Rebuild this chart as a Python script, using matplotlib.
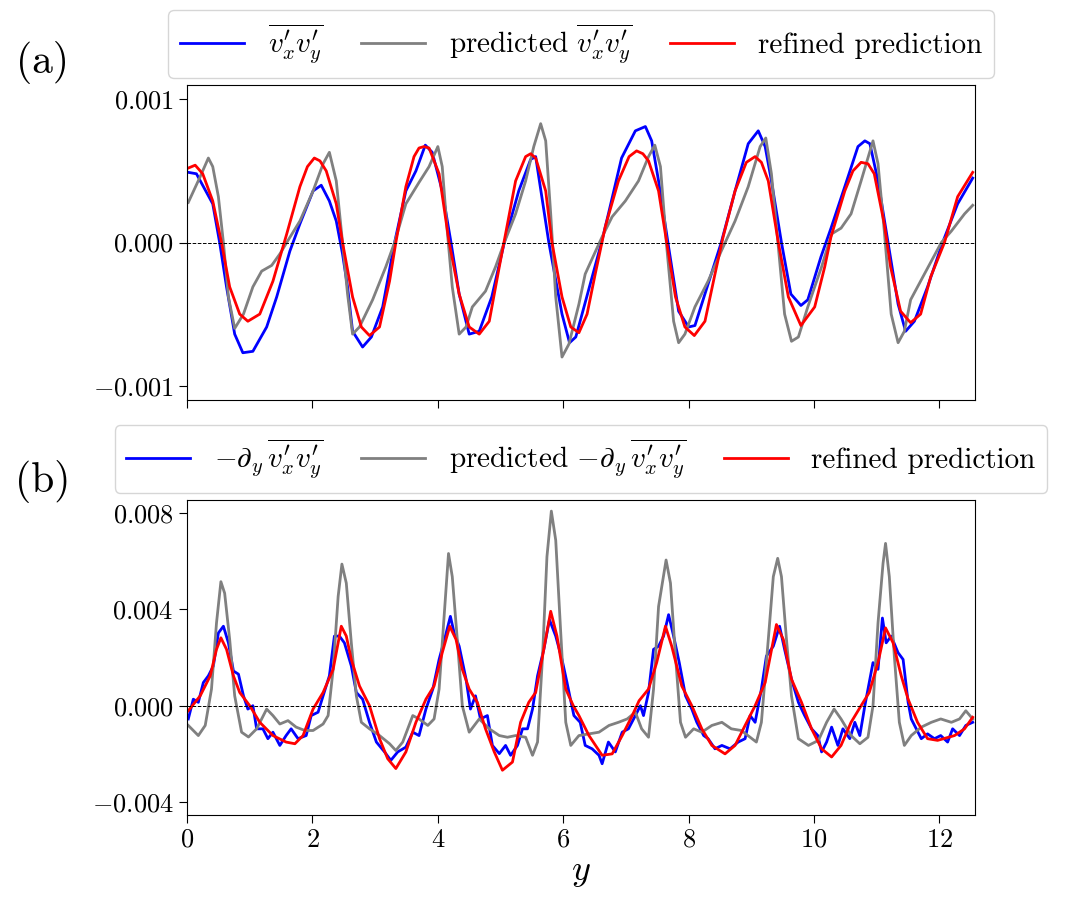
import numpy as np
import matplotlib
matplotlib.use("Agg")
import matplotlib.pyplot as plt
from matplotlib.ticker import FuncFormatter, MultipleLocator

plt.rcParams['font.family'] = 'serif'
plt.rcParams['font.serif'] = ['cmr10', 'DejaVu Serif']
plt.rcParams['mathtext.fontset'] = 'cm'
plt.rcParams['axes.formatter.use_mathtext'] = True

# ==========================
# Panel (a): Reynolds stress
# ==========================
y_a_true = [0.02, 0.15, 0.41, 0.52, 0.63, 0.76, 0.89, 1.05, 1.27, 1.43, 1.64, 1.80, 2.01, 2.14,
            2.27, 2.38, 2.48, 2.56, 2.64, 2.80, 2.94, 3.12, 3.31, 3.49, 3.65, 3.80, 3.91, 4.07,
            4.21, 4.34, 4.50, 4.66, 4.86, 5.06, 5.29, 5.48, 5.56, 5.77, 5.98, 6.10, 6.20, 6.30,
            6.61, 6.72, 6.93, 7.15, 7.31, 7.41, 7.52, 7.68, 7.84, 8.00, 8.10, 8.31, 8.52, 8.74,
            8.95, 9.11, 9.22, 9.32, 9.48, 9.63, 9.79, 9.90, 10.11, 10.27, 10.49, 10.70, 10.81,
            10.89, 11.02, 11.18, 11.34, 11.46, 11.60, 11.81, 12.05, 12.29, 12.53]
uv_true = [0.49, 0.48, 0.27, 0.0, -0.31, -0.64, -0.77, -0.76, -0.59, -0.38, -0.06, 0.13, 0.36, 0.40,
           0.29, 0.15, -0.08, -0.31, -0.62, -0.73, -0.66, -0.45, 0.0, 0.36, 0.50, 0.68, 0.63, 0.36,
           0.0, -0.36, -0.64, -0.62, -0.38, 0.0, 0.36, 0.58, 0.60, 0.0, -0.50, -0.70, -0.66, -0.50,
           0.0, 0.20, 0.59, 0.78, 0.81, 0.71, 0.43, -0.03, -0.48, -0.59, -0.58, -0.29, 0.0, 0.36,
           0.69, 0.78, 0.67, 0.43, 0.0, -0.36, -0.44, -0.40, -0.10, 0.10, 0.39, 0.67, 0.71,
           0.69, 0.43, 0.0, -0.43, -0.62, -0.55, -0.31, 0.0, 0.27, 0.45]

y_a_pred = [0.02, 0.21, 0.34, 0.41, 0.50, 0.58, 0.66, 0.76, 0.90, 1.05, 1.19, 1.35, 1.48, 1.59,
            1.80, 2.01, 2.17, 2.27, 2.38, 2.48, 2.56, 2.64, 2.75, 2.96, 3.17, 3.31, 3.49, 3.70,
            3.86, 4.00, 4.07, 4.15, 4.23, 4.34, 4.45, 4.55, 4.76, 4.92, 5.06, 5.24, 5.40, 5.53,
            5.64, 5.72, 5.80, 5.88, 5.98, 6.09, 6.25, 6.35, 6.62, 6.78, 6.99, 7.20, 7.36, 7.46,
            7.55, 7.65, 7.76, 7.84, 7.94, 8.10, 8.31, 8.52, 8.74, 8.95, 9.14, 9.23, 9.32, 9.43,
            9.53, 9.64, 9.75, 9.90, 10.12, 10.28, 10.43, 10.59, 10.75, 10.94, 11.02, 11.12,
            11.23, 11.34, 11.44, 11.54, 11.76, 12.03, 12.19, 12.40, 12.53]
uv_pred = [0.28, 0.46, 0.59, 0.53, 0.32, 0.0, -0.38, -0.60, -0.50, -0.31, -0.20, -0.16, -0.08, 0.0,
           0.15, 0.36, 0.55, 0.63, 0.43, 0.0, -0.36, -0.64, -0.59, -0.40, -0.17, 0.0, 0.27, 0.42,
           0.53, 0.67, 0.53, 0.08, -0.31, -0.64, -0.59, -0.45, -0.34, -0.17, 0.0, 0.20, 0.43, 0.67,
           0.83, 0.71, 0.20, -0.38, -0.80, -0.71, -0.43, -0.22, 0.04, 0.18, 0.29, 0.43, 0.60, 0.68,
           0.53, -0.03, -0.55, -0.70, -0.64, -0.45, -0.27, -0.06, 0.15, 0.39, 0.67, 0.73, 0.48, -0.03,
           -0.50, -0.69, -0.66, -0.45, -0.17, 0.06, 0.10, 0.20, 0.43, 0.71, 0.55, 0.08,
           -0.50, -0.70, -0.62, -0.40, -0.22, 0.0, 0.08, 0.20, 0.26]

y_a_ref = [0.02, 0.13, 0.25, 0.41, 0.55, 0.68, 0.84, 0.97, 1.16, 1.37, 1.59, 1.80, 1.92, 2.03,
           2.12, 2.22, 2.38, 2.48, 2.64, 2.78, 2.91, 3.07, 3.23, 3.33, 3.49, 3.62, 3.70, 3.78,
           3.86, 4.02, 4.18, 4.34, 4.50, 4.66, 4.82, 4.98, 5.08, 5.24, 5.40, 5.48, 5.56, 5.72,
           5.82, 5.98, 6.12, 6.25, 6.38, 6.51, 6.67, 6.88, 7.05, 7.17, 7.27, 7.36, 7.52, 7.65,
           7.79, 7.94, 8.09, 8.26, 8.42, 8.55, 8.74, 8.92, 9.06, 9.16, 9.27, 9.43, 9.59, 9.79,
           10.01, 10.17, 10.27, 10.49, 10.62, 10.75, 10.86, 10.96, 11.12, 11.22, 11.38, 11.54,
           11.70, 11.86, 12.08, 12.29, 12.53]
uv_ref = [0.52, 0.54, 0.48, 0.29, 0.0, -0.31, -0.50, -0.55, -0.50, -0.27, 0.06, 0.39, 0.53, 0.59,
          0.57, 0.50, 0.27, 0.0, -0.38, -0.59, -0.65, -0.59, -0.27, 0.0, 0.39, 0.60, 0.66, 0.67,
          0.66, 0.48, 0.0, -0.36, -0.59, -0.64, -0.55, -0.17, 0.06, 0.43, 0.60, 0.62, 0.59, 0.36,
          0.0, -0.38, -0.59, -0.63, -0.50, -0.22, 0.11, 0.43, 0.60, 0.64, 0.62, 0.57, 0.36, 0.0,
          -0.38, -0.59, -0.65, -0.55, -0.22, 0.04, 0.36, 0.56, 0.60, 0.56, 0.43, 0.0, -0.38, -0.58,
          -0.45, -0.17, 0.04, 0.36, 0.50, 0.56, 0.55, 0.48, 0.13, -0.17, -0.48, -0.56,
          -0.50, -0.24, 0.0, 0.32, 0.49]

# ==========================
# Panel (b): divergence
# ==========================
y_b_true = [0.02, 0.10, 0.18, 0.26, 0.34, 0.42, 0.50, 0.58, 0.66, 0.74, 0.82, 0.90, 0.97, 1.05,
            1.11, 1.21, 1.29, 1.37, 1.48, 1.58, 1.66, 1.77, 1.90, 1.98, 2.09, 2.17, 2.27, 2.35,
            2.43, 2.51, 2.62, 2.70, 2.80, 2.91, 3.02, 3.15, 3.25, 3.36, 3.49, 3.60, 3.70, 3.81,
            3.92, 4.02, 4.12, 4.20, 4.26, 4.34, 4.45, 4.52, 4.60, 4.68, 4.79, 4.87, 4.98, 5.08,
            5.16, 5.27, 5.35, 5.43, 5.51, 5.59, 5.69, 5.78, 5.88, 5.98, 6.06, 6.12, 6.17, 6.27,
            6.35, 6.46, 6.57, 6.62, 6.72, 6.83, 6.94, 7.04, 7.15, 7.23, 7.28, 7.36, 7.44, 7.52,
            7.60, 7.68, 7.76, 7.85, 7.95, 8.05, 8.13, 8.24, 8.31, 8.42, 8.53, 8.66, 8.79, 8.90,
            8.98, 9.06, 9.16, 9.24, 9.35, 9.45, 9.53, 9.64, 9.75, 9.85, 9.96, 10.06, 10.12,
            10.20, 10.28, 10.38, 10.46, 10.57, 10.65, 10.73, 10.81, 10.89, 10.94, 11.02, 11.09,
            11.15, 11.23, 11.34, 11.42, 11.50, 11.55, 11.63, 11.71, 11.81, 11.92, 12.02, 12.13,
            12.21, 12.32, 12.42, 12.53]
dv_true = [-0.55, 0.27, 0.14, 0.96, 1.24, 1.65, 3.02, 3.30, 2.61, 1.44, 1.31, 0.41, -0.14, 0.0,
           -0.96, -0.96, -1.37, -1.10, -1.65, -1.24, -0.96, -1.37, -1.24, -0.41, -0.27, 0.41, 1.24, 2.89,
           2.89, 2.61, 1.65, 0.55, 0.27, -0.69, -1.51, -1.92, -2.27, -1.92, -1.72, -1.10, -1.24, -0.14,
           0.69, 1.92, 2.89, 3.71, 3.02, 2.47, 1.10, -0.14, 0.41, -0.55, -0.41, -1.65, -1.99, -1.65,
           -2.06, -1.65, -0.96, -0.96, -0.14, 1.24, 2.34, 3.57, 2.89, 1.92, 0.96, 0.20, -0.41, -0.69,
           -1.65, -1.79, -2.06, -2.41, -1.51, -1.92, -1.10, -0.96, -0.41, 0.0, -0.41, 0.55, 2.34, 2.47,
           2.89, 3.78, 2.89, 1.79, 0.41, -0.14, -0.69, -1.24, -1.37, -1.79, -1.65, -1.79, -1.51, -1.37,
           -0.41, -0.69, 0.69, 2.06, 2.47, 3.30, 2.34, 1.10, 0.14, -0.41, -0.96, -1.24, -1.92,
           -1.51, -0.89, -1.65, -0.96, -1.37, -0.69, -1.24, 0.0, 1.10, 1.79, 1.51, 3.64,
           2.61, 2.89, 2.20, 1.92, 0.14, -0.55, -0.96, -1.37, -1.17, -1.37, -1.24, -1.51,
           -0.96, -1.24, -0.82, -0.69]

y_b_pred = [0.02, 0.18, 0.29, 0.39, 0.47, 0.54, 0.60, 0.68, 0.76, 0.87, 0.98, 1.11, 1.27, 1.37,
            1.48, 1.61, 1.74, 1.88, 2.01, 2.17, 2.25, 2.33, 2.41, 2.47, 2.54, 2.62, 2.70, 2.78,
            2.91, 3.07, 3.23, 3.33, 3.44, 3.60, 3.70, 3.84, 3.94, 4.02, 4.10, 4.17, 4.23, 4.31,
            4.39, 4.50, 4.66, 4.82, 4.98, 5.11, 5.24, 5.40, 5.51, 5.59, 5.67, 5.74, 5.81, 5.88,
            5.96, 6.04, 6.12, 6.25, 6.41, 6.57, 6.73, 6.88, 7.02, 7.15, 7.25, 7.36, 7.44, 7.52,
            7.64, 7.71, 7.79, 7.87, 7.95, 8.08, 8.21, 8.37, 8.53, 8.68, 8.84, 8.98, 9.08, 9.16,
            9.27, 9.35, 9.42, 9.48, 9.56, 9.64, 9.75, 9.91, 10.07, 10.20, 10.32, 10.43, 10.59,
            10.73, 10.86, 10.94, 11.02, 11.10, 11.14, 11.20, 11.28, 11.36, 11.44, 11.55, 11.71,
            11.87, 12.02, 12.19, 12.32, 12.42, 12.53]
dv_pred = [-0.82, -1.24, -0.82, 0.69, 3.44, 5.15, 4.67, 2.75, 0.41, -1.10, -1.30, -0.96, -0.14, -0.41,
           -0.76, -0.62, -0.89, -1.03, -1.03, -0.76, -0.41, 1.51, 4.54, 5.88, 5.09, 2.61, 0.41, -0.69,
           -0.96, -1.24, -1.58, -1.86, -1.51, -0.41, -0.55, -0.82, -0.55, 0.69, 3.71, 6.32, 5.36, 2.75,
           0.0, -1.10, -0.55, -0.96, -1.24, -1.31, -1.24, -1.31, -2.06, -1.51, 2.06, 6.19, 8.08, 6.87,
           3.02, -0.69, -1.65, -1.24, -1.17, -1.10, -0.82, -0.69, -0.55, -0.27, -0.96, -1.31, 0.69, 4.12,
           6.05, 5.09, 2.06, -0.69, -1.31, -0.96, -1.10, -0.82, -0.69, -0.96, -1.03, -1.31, -1.51, -0.69,
           2.75, 5.36, 6.12, 5.36, 2.75, 0.41, -1.37, -1.65, -1.44, -0.69, -0.14, -0.55, -1.24,
           -1.58, -1.31, 0.0, 3.44, 5.91, 6.74, 5.36, 2.06, -0.69, -1.65, -1.24, -0.89,
           -0.69, -0.55, -0.69, -0.55, -0.21, -0.55]

y_b_ref = [0.02, 0.21, 0.37, 0.47, 0.54, 0.63, 0.74, 0.84, 1.00, 1.16, 1.37, 1.58, 1.72, 1.85,
           2.01, 2.17, 2.33, 2.46, 2.54, 2.62, 2.75, 2.91, 3.07, 3.20, 3.33, 3.49, 3.65, 3.81,
           3.94, 4.07, 4.19, 4.29, 4.39, 4.50, 4.63, 4.76, 4.90, 5.03, 5.19, 5.32, 5.45, 5.56,
           5.67, 5.80, 5.90, 6.04, 6.16, 6.25, 6.41, 6.62, 6.78, 6.94, 7.10, 7.21, 7.36, 7.49,
           7.63, 7.73, 7.89, 8.05, 8.21, 8.37, 8.58, 8.74, 8.90, 9.06, 9.22, 9.40, 9.51, 9.64,
           9.80, 9.96, 10.12, 10.28, 10.43, 10.59, 10.75, 10.88, 11.02, 11.14, 11.26, 11.39,
           11.50, 11.65, 11.81, 11.97, 12.24, 12.40, 12.53]
dv_ref = [-0.21, 0.41, 1.24, 2.34, 2.82, 2.34, 1.24, 0.55, 0.0, -0.69, -1.24, -1.51, -1.58, -1.24,
          -0.14, 0.55, 1.51, 3.30, 2.89, 1.92, 0.82, 0.0, -1.37, -2.20, -2.61, -1.92, -0.69, 0.27,
          0.82, 2.20, 3.30, 2.75, 1.51, 0.69, 0.14, -0.96, -1.92, -2.68, -2.34, -0.69, 0.14, 0.55,
          2.06, 3.92, 2.89, 0.69, 0.0, -0.41, -1.24, -2.06, -2.00, -1.24, -0.41, 0.21, 0.69, 1.79,
          3.30, 2.47, 0.82, 0.0, -0.96, -1.65, -2.00, -1.65, -0.82, 0.0, 0.96, 3.37, 2.75, 1.10,
          0.14, -0.96, -1.79, -2.13, -1.65, -0.69, 0.0, 0.55, 1.79, 3.23, 2.61, 1.24,
          0.27, -0.69, -1.37, -1.44, -1.24, -0.96, -0.48]

# ==========================
# Figure
# ==========================
fig = plt.figure(figsize=(10.7, 9.17), dpi=100)
ax1 = fig.add_axes([0.1748, 0.5638, 0.7364, 0.3435])
ax2 = fig.add_axes([0.1748, 0.1112, 0.7364, 0.3435], sharex=ax1)

uv_label = r'$\overline{v_x^\prime v_y^\prime}$'
div_label = r'$-\partial_y\,\overline{v_x^\prime v_y^\prime}$'

ax1.plot(y_a_true, np.array(uv_true) * 1e-3, color='blue', lw=2, label=uv_label)
ax1.plot(y_a_pred, np.array(uv_pred) * 1e-3, color='gray', lw=2, label='predicted ' + uv_label)
ax1.plot(y_a_ref, np.array(uv_ref) * 1e-3, color='red', lw=2, label='refined prediction')
ax1.axhline(0, color='black', ls='--', lw=0.7)

ax2.plot(y_b_true, np.array(dv_true) * 1e-3, color='blue', lw=2, label=div_label)
ax2.plot(y_b_pred, np.array(dv_pred) * 1e-3, color='gray', lw=2, label='predicted ' + div_label)
ax2.plot(y_b_ref, np.array(dv_ref) * 1e-3, color='red', lw=2, label='refined prediction')
ax2.axhline(0, color='black', ls='--', lw=0.7)

ax1.set_xlim(0, 4 * np.pi)
ax1.set_ylim(-0.0011, 0.0011)
ax2.set_ylim(-0.00454, 0.00854)

ax1.xaxis.set_major_locator(MultipleLocator(2))
ax1.yaxis.set_major_locator(MultipleLocator(0.001))
ax2.yaxis.set_major_locator(MultipleLocator(0.004))

fmt = FuncFormatter(lambda v, p: r'$%.3f$' % v)
ax1.yaxis.set_major_formatter(fmt)
ax2.yaxis.set_major_formatter(fmt)
ax2.xaxis.set_major_formatter(FuncFormatter(lambda v, p: r'$%d$' % round(v)))
plt.setp(ax1.get_xticklabels(), visible=False)

for ax in (ax1, ax2):
    ax.tick_params(labelsize=19, length=6)

leg_kw = dict(loc='lower center', bbox_to_anchor=(0.5, 1.0), ncol=3, fontsize=21,
              handlelength=2.2, columnspacing=1.3, borderaxespad=0.25)
ax1.legend(**leg_kw)
ax2.legend(**leg_kw)

ax2.set_xlabel(r'$y$', fontsize=26)

fig.text(0.04, 0.932, '(a)', fontsize=30, ha='center', va='center')
fig.text(0.04, 0.475, '(b)', fontsize=30, ha='center', va='center')

fig.savefig('out.png', dpi=100)
